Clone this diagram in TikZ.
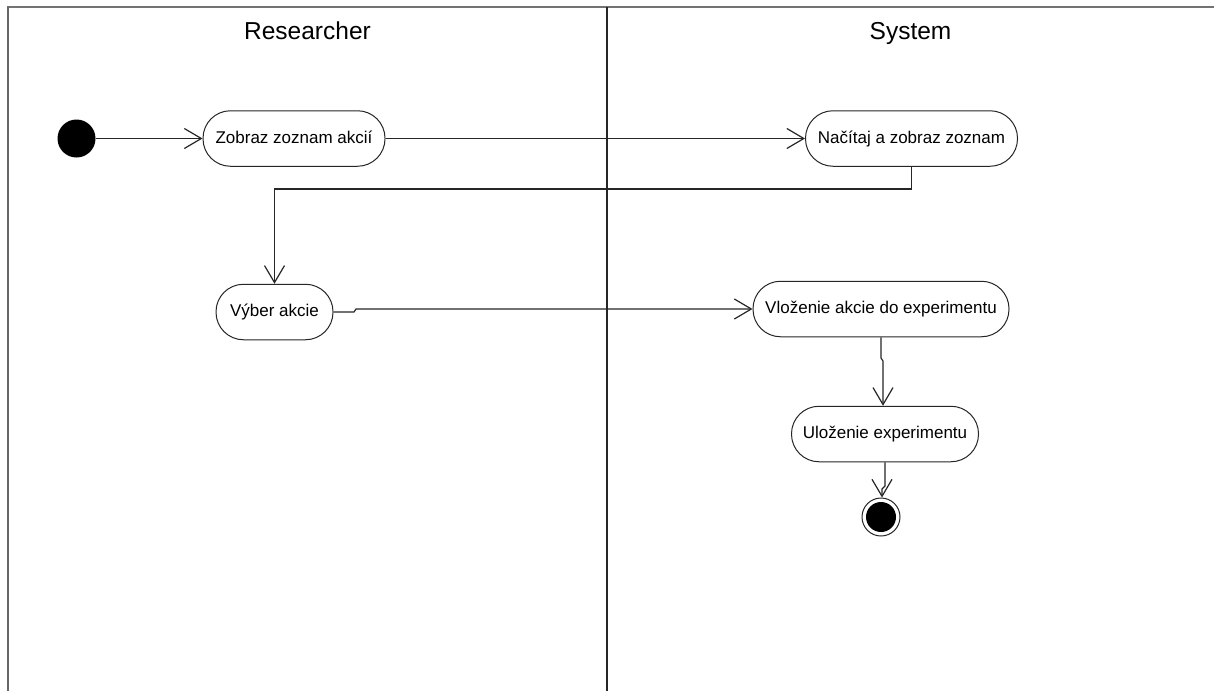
\documentclass[tikz,border=0pt]{standalone}
\usepackage{fontspec}
\setmainfont{Liberation Sans}
\usetikzlibrary{arrows.meta}
\tikzset{
  act/.style={draw=black!85, line width=1pt, rectangle, rounded corners=27.5pt,
    minimum height=55.5pt, inner sep=0pt, fill=white,
    font=\fontsize{17}{20}\selectfont, text height=12.5pt, text depth=3.5pt},
  flow/.style={draw=black!85, line width=1.2pt,
    -{Straight Barb[length=17pt,width=20pt,line width=1.2pt]}},
  lane/.style={font=\fontsize{24.5}{28}\selectfont, anchor=base, inner sep=0pt},
}
\begin{document}
\begin{tikzpicture}[x=1pt,y=-1pt]
\useasboundingbox (0,0) rectangle (1214,691);
\fill[white] (0,0) rectangle (1214,691);
% swimlanes
\draw[draw=black!55, line width=2pt] (7,7) -- (1214,7);
\draw[draw=black!60, line width=1.4pt] (8,7) -- (8,691);
\draw[draw=black!85, line width=1.1pt] (607,7) -- (607,691);
\node[lane] (lr) at (307.5,39.5) {Researcher};
\node[lane] (ls) at (910.5,39.5) {System};
% nodes
\node[circle, fill=black, inner sep=0pt, minimum size=38pt] (init) at (76.5,138.5) {};
\node[act, minimum width=182pt] (zob) at (294,138.5) {Zobraz zoznam akcií};
\node[act, minimum width=212pt] (nac) at (911.5,138.5) {Načítaj a zobraz zoznam};
\node[act, minimum width=117pt] (vyb) at (274.5,312) {Výber akcie};
\node[act, minimum width=256pt] (vlo) at (881,309) {Vloženie akcie do experimentu};
\node[act, minimum width=187pt] (ulo) at (885,434) {Uloženie experimentu};
\node[circle, draw=black!85, line width=1pt, inner sep=0pt, minimum size=38pt] (fin) at (881,517) {};
\node[circle, fill=black, inner sep=0pt, minimum size=30pt] (finin) at (fin.center) {};
% waypoints
\coordinate (c1) at (911.5,189);
\coordinate (c2) at (274.5,189);
\coordinate (c3) at (354,312);
\coordinate (c4) at (356,309);
\coordinate (c5) at (881,358);
\coordinate (c6) at (883,361);
\coordinate (c7) at (885,486);
\coordinate (c8) at (882,489);
% connectors
\draw[flow] (init.east) -- (zob.west);
\draw[flow] (zob.east) -- (nac.west);
\draw[flow] (nac.south) -- (c1) -- (c2) -- (vyb.north);
\draw[flow] (vyb.east) -- (c3) -- (c4) -- (vlo.west);
\draw[flow] (vlo.south) -- (c5) -- (c6) -- (c6 |- ulo.north);
\draw[flow] (ulo.south) -- (c7) -- (c8) -- (c8 |- fin.north);
\end{tikzpicture}
\end{document}
